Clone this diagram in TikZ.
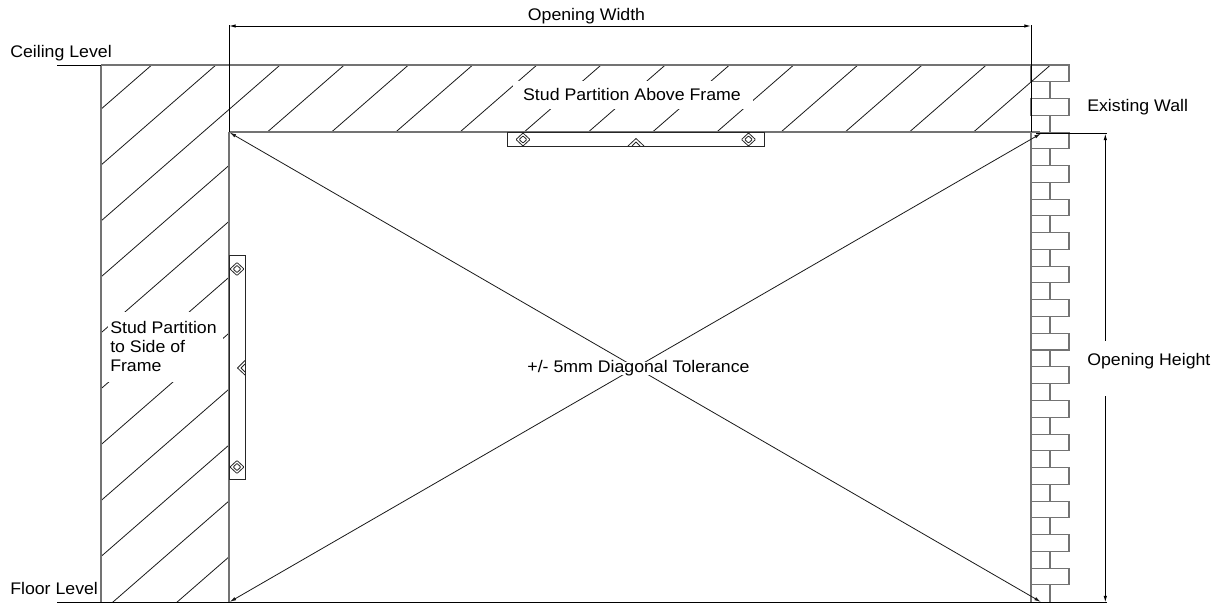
\documentclass[tikz,border=0pt]{standalone}
\usepackage{fontspec}
\setmainfont{Liberation Sans}[FakeStretch=1.055]
\usetikzlibrary{arrows.meta}
\tikzset{
  x=0.75pt,y=-0.75pt,
  wallline/.style={draw=black!55,line width=0.8pt},
  hatchline/.style={draw=black!90,line width=0.6pt},
  dimline/.style={draw=black,line width=0.7pt},
  diagline/.style={draw=black!90,line width=0.6pt,{Latex[length=5pt,width=2.6pt]}-{Latex[length=5pt,width=2.6pt]}},
  dimarrow/.style={dimline,{Latex[length=5pt,width=2.6pt]}-{Latex[length=5pt,width=2.6pt]}},
  label/.style={inner sep=0pt,font=\fontsize{12.6pt}{14.25pt}\selectfont},
  plate/.style={draw=black!85,line width=0.7pt,fill=white},
  fixing/.style={draw=black!85,line width=0.6pt,line join=round},
}
\begin{document}
\begin{tikzpicture}
\useasboundingbox (0,0) rectangle (1220,603);
% hatching
\begin{scope}
\clip (101,65) -- (1050.5,65) -- (1031,82) -- (1031,132) -- (229,132) -- (229,602.5) -- (101,602.5) -- cycle;
\foreach \k in {0,...,14}{
  \draw[hatchline] ({151.7+64.2*\k},65) -- ({151.7+64.2*\k-620},{65+620*0.871});
}
\end{scope}
\fill[white] (512.7,81.3) rectangle (752.7,108.7);
\fill[white] (107.5,312.3) rectangle (223,382);
% bricks
\draw[wallline] (1050,65) -- (1050,602.5);
\foreach \k in {0,...,15}{
  \draw[wallline,fill=white] (1031,{65+33.55*\k}) rectangle (1069,{81.6+33.55*\k});
}
% redraw the last hatch end over the top brick
\begin{scope}
\clip (1031,65) rectangle (1069,82);
\draw[hatchline] (1050.5,65) -- (1031,82);
\end{scope}
% walls and levels
\draw[wallline] (101,65) -- (1069,65);
\draw[wallline] (101,65) -- (101,602.5);
\draw[wallline] (229,132) -- (229,602.5);
\draw[wallline] (229,132) -- (1040,132);
\draw[wallline] (1031,132) -- (1031,602.5);
\draw[dimline] (57,65) -- (101,65);
\draw[dimline] (57,602.5) -- (1107,602.5);
% dimension frames
\coordinate (wl) at (229,26);
\coordinate (wr) at (1031,26);
\draw[dimline] (229,25) -- (229,132);
\draw[dimline] (1031,25) -- (1031,132);
\draw[dimline] (1036,133.5) -- (1107,133.5);
\draw[dimarrow] (wl) -- (wr);
\node[label,anchor=center] (ow) at (586.5,16) {Opening Width};
\coordinate (ht) at (1105.3,133.5);
\coordinate (hb) at (1105.3,602.5);
\coordinate (hm1) at (1105.3,340.7);
\coordinate (hm2) at (1105.3,396);
\draw[dimline,{Latex[length=5pt,width=2.6pt]}-] (ht) -- (hm1);
\draw[dimline,-{Latex[length=5pt,width=2.6pt]}] (hm2) -- (hb);
% diagonals
\coordinate (dtl) at (229.5,132.5);
\coordinate (dbr) at (1041,602);
\coordinate (dbl) at (229.5,602);
\coordinate (dtr) at (1041,133.5);
\draw[diagline] (dtl) -- (dbr);
\draw[diagline] (dbl) -- (dtr);
\fill[white] (520,362) rectangle (755,375);
% plates
\draw[plate] (507.5,132.5) rectangle (764.5,146);
\draw[plate] (229,255.5) rectangle (245,479.5);
\foreach \cx/\cy in {523/139.5,748.5/139.5,237/269,237/467}{
  \begin{scope}[shift={(\cx,\cy)}]
    \draw[fixing,rounded corners=0.5pt] (-7,0) -- (0,-6.5) -- (7,0) -- (0,6.5) -- cycle;
    \draw[fixing,rounded corners=0.5pt] (-3.8,0) -- (0,-3.6) -- (3.8,0) -- (0,3.6) -- cycle;
  \end{scope}
}
\draw[fixing] (628,146) -- (636,138.5) -- (644,146);
\draw[fixing] (632,146) -- (636,142) -- (640,146);
\draw[fixing] (245,360.5) -- (237.5,368) -- (245,375);
\draw[fixing] (245,364) -- (241,368) -- (245,372);
% labels
\node[label,anchor=west] (cl) at (10,53) {Ceiling Level};
\node[label,anchor=west] (fl) at (10,588.5) {Floor Level};
\node[label,anchor=center] (sa) at (632,94.5) {Stud Partition Above Frame};
\node[label,anchor=west] (ew) at (1087,107) {Existing Wall};
\node[label,anchor=west] (oh) at (1087,361) {Opening Height};
\node[label,anchor=west,align=left] (ss) at (110,346) {Stud Partition\\to Side of\\Frame};
\node[label,anchor=center] (dt) at (638.5,368.5) {+/- 5mm Diagonal Tolerance};
\end{tikzpicture}
\end{document}
